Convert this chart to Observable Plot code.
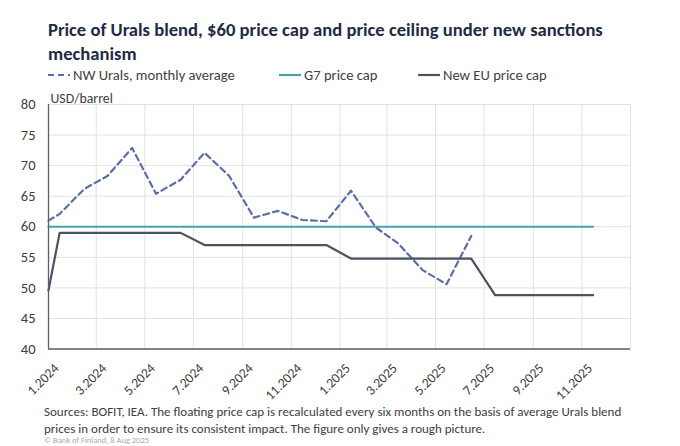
<!DOCTYPE html>
<html>
<head>
<meta charset="utf-8">
<script src="https://cdn.jsdelivr.net/npm/d3@7"></script>
<script src="https://cdn.jsdelivr.net/npm/@observablehq/plot@0.6"></script>
<style>
  body { margin: 0; background: #fff; font-family: Carlito, Lato, sans-serif; color: #404040; width: 680px; height: 446px; overflow: hidden; }
  #title { padding: 18px 0 0 48px; font-size: 18.6px; font-weight: bold; line-height: 24px; color: #1f2a44; }
  #legend { position: relative; height: 18px; font-size: 14.6px; }
  #legend .item { position: absolute; top: 0; height: 18px; display: flex; align-items: center; white-space: nowrap; }
  #legend svg { margin-right: 3px; }
  #chart svg { display: block; overflow: visible; }
  #footer { margin-top: -2px; padding-left: 44px; font-size: 13px; line-height: 16.5px; color: #404040; }
  #copy { margin-top: -1px; font-size: 8.5px; line-height: 8.5px; color: #aaa; }
</style>
</head>
<body>
<div id="title">Price of Urals blend, $60 price cap and price ceiling under new sanctions<br>mechanism</div>
<div id="legend"></div>
<div id="chart"></div>
<div id="footer">Sources: BOFIT, IEA. The floating price cap is recalculated every six months on the basis of average Urals blend<br>prices in order to ensure its consistent impact. The figure only gives a rough picture.<div id="copy">© Bank of Finland, 8 Aug 2025</div></div>
<script>
// NW Urals, monthly average (USD/barrel)
const uralsDates = ["2024-01-01", "2024-01-15", "2024-02-15", "2024-03-15", "2024-04-15", "2024-05-15", "2024-06-15",
  "2024-07-15", "2024-08-15", "2024-09-15", "2024-10-15", "2024-11-15", "2024-12-15",
  "2025-01-15", "2025-02-15", "2025-03-15", "2025-04-15", "2025-05-15", "2025-06-15"];
const uralsValues = [61.0, 62.1, 66.2, 68.3, 72.9, 65.4, 67.7, 72.1, 68.3, 61.5, 62.6, 61.1, 60.9,
  65.9, 59.9, 57.3, 52.9, 50.6, 58.5];

// G7 price cap
const g7Dates = ["2024-01-01", "2025-11-15"];
const g7Values = [60, 60];

// New EU price cap
const euDates = ["2024-01-01", "2024-01-15", "2024-06-15", "2024-07-15", "2024-12-15", "2025-01-15",
  "2025-06-15", "2025-07-15", "2025-11-15"];
const euValues = [49.6, 59, 59, 57, 57, 54.8, 54.8, 48.8, 48.8];

const xTickLabels = ["1.2024", "3.2024", "5.2024", "7.2024", "9.2024", "11.2024",
  "1.2025", "3.2025", "5.2025", "7.2025", "9.2025", "11.2025"];
const yTicks = [40, 45, 50, 55, 60, 65, 70, 75, 80];

const series = [
  {name: "NW Urals, monthly average", dates: uralsDates, values: uralsValues, color: "#5b6fa6", dash: "6,4"},
  {name: "G7 price cap", dates: g7Dates, values: g7Values, color: "#45a5ad", dash: null},
  {name: "New EU price cap", dates: euDates, values: euValues, color: "#4d5260", dash: null}
];

const parseTick = s => { const [m, y] = s.split("."); return new Date(Date.UTC(+y, +m - 1, 1)); };
const xTicks = xTickLabels.map(parseTick);
const x0 = xTicks[0];
const x1 = d3.utcMonth.offset(xTicks[xTicks.length - 1], 2);
const tickFmt = d => `${d.getUTCMonth() + 1}.${d.getUTCFullYear()}`;

const toRows = s => s.dates.map((d, i) => ({date: new Date(d), value: s.values[i]}));

// legend
const legend = d3.select("#legend");
const lefts = [48, 279, 418];
series.forEach((s, i) => {
  const it = legend.append("div").attr("class", "item").style("left", lefts[i] + "px");
  const sw = it.append("svg").attr("width", 22).attr("height", 10);
  sw.append("line").attr("x1", 0).attr("x2", 22).attr("y1", 5).attr("y2", 5)
    .attr("stroke", s.color).attr("stroke-width", 2.2).attr("stroke-dasharray", s.dash);
  it.append("span").text(s.name);
});

const chart = Plot.plot({
  width: 680,
  height: 322,
  marginLeft: 48,
  marginRight: 50,
  marginTop: 20,
  marginBottom: 57.5,
  style: {fontFamily: "Carlito, Lato, sans-serif", fontSize: "14px", color: "#404040", background: "#fff"},
  x: {type: "utc", domain: [x0, x1]},
  y: {domain: [40, 80]},
  marks: [
    Plot.gridX([...xTicks, x1], {stroke: "#e2e2e2", strokeOpacity: 1}),
    Plot.gridY(yTicks, {stroke: "#e2e2e2", strokeOpacity: 1}),
    Plot.axisY(yTicks, {tickSize: 0, tickPadding: 13, label: null, fontSize: 14.5}),
    Plot.axisX(xTicks, {tickSize: 0, tickFormat: tickFmt, tickRotate: -45, tickPadding: 6, dx: 8, dy: 11, label: null, fontSize: 13.6}),
    ...series.map(s => Plot.line(toRows(s), {
      x: "date", y: "value", stroke: s.color, strokeWidth: 2.2, strokeDasharray: s.dash
    })),
    Plot.ruleY([40], {stroke: "#5a5f6e", strokeWidth: 1.3}),
    Plot.ruleX([x0], {stroke: "#5a5f6e", strokeWidth: 1.3}),
    Plot.text(["USD/barrel"], {frameAnchor: "top-left", dy: -11, dx: 2, textAnchor: "start", fontSize: 13.8})
  ]
});
document.getElementById("chart").append(chart);
</script>
</body>
</html>
